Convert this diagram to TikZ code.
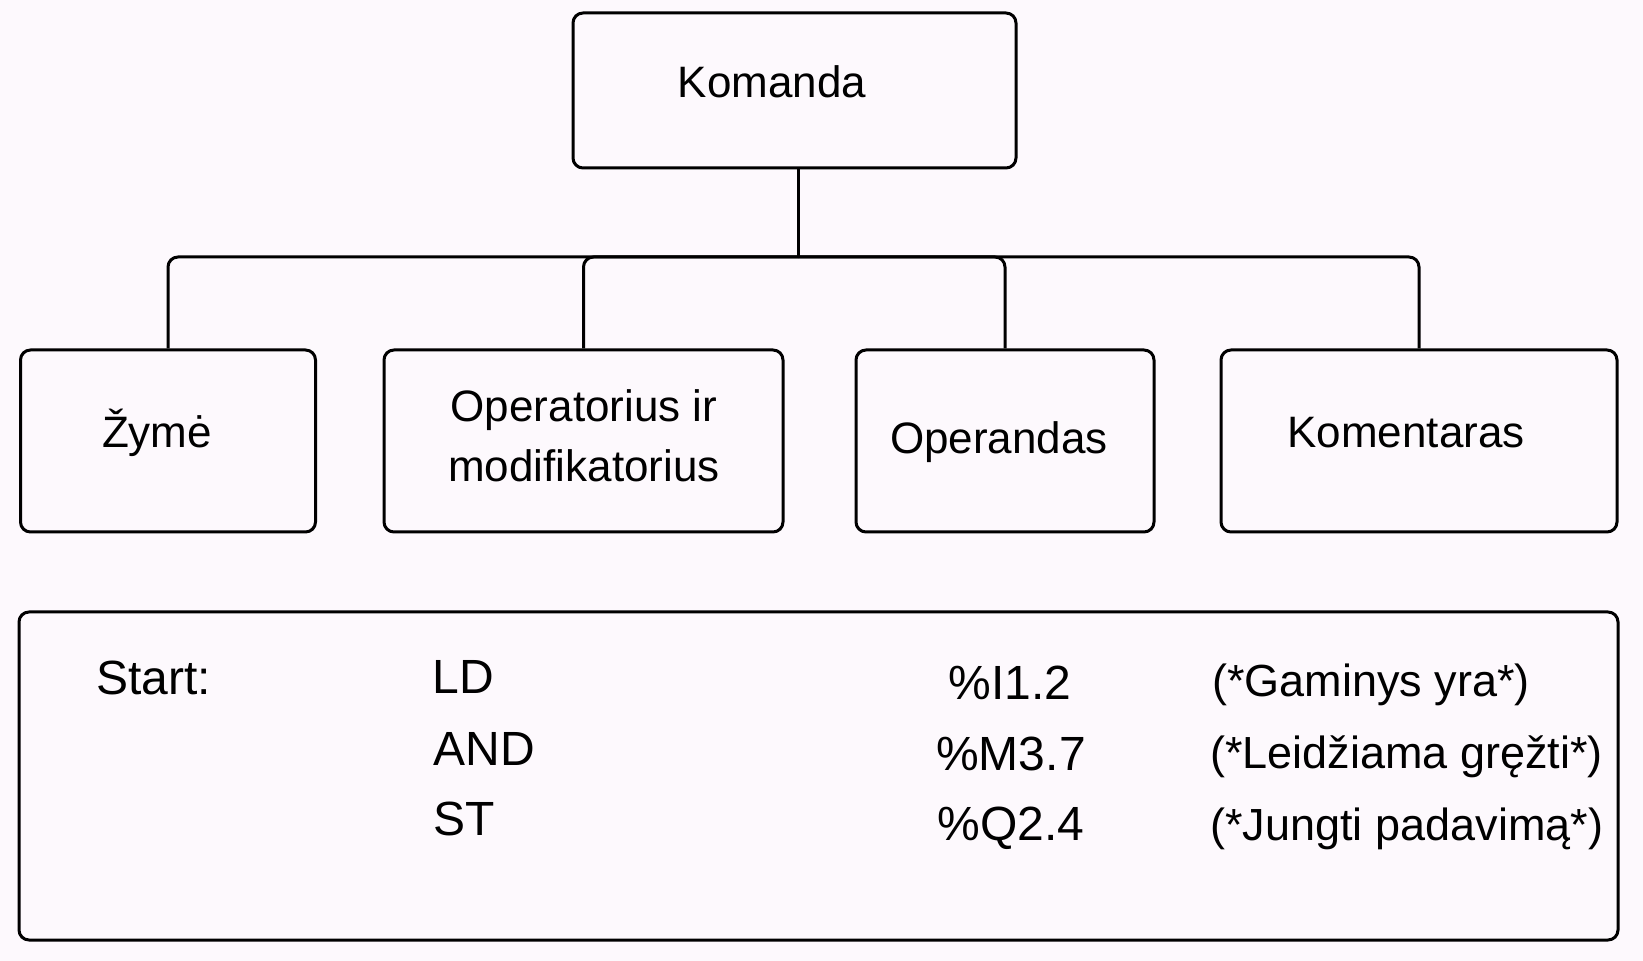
\documentclass[tikz,border=0pt]{standalone}
\usepackage{fontspec}
\setmainfont{Liberation Sans}
\definecolor{paper}{RGB}{253,249,253}
\begin{document}
\begin{tikzpicture}[x=0.5pt,y=-0.5pt,
  box/.style={draw=black,line width=1.5pt,rounded corners=5pt,fill=paper,
    inner sep=0pt,font=\fontsize{22}{30}\selectfont,align=center},
  link/.style={draw=black,line width=1.5pt,rounded corners=5pt},
  code/.style={inner sep=0pt,font=\fontsize{24}{28}\selectfont},
  note/.style={inner sep=0pt,font=\fontsize{22.5}{28}\selectfont,anchor=base west}]
  % page
  \fill[paper] (0,0) rectangle (1643,961);
  \useasboundingbox (0,0) rectangle (1643,961);

  % top-level box
  \node[box,minimum width=221.5pt,minimum height=77.5pt] (komanda) at (794.5,90.5) {};
  \node[inner sep=0pt,font=\fontsize{22}{30}\selectfont] (komandaText) at (772,82) {Komanda};

  % parts of an instruction
  \node[box,minimum width=147.5pt,minimum height=91pt] (zyme) at (168,441) {};
  \node[inner sep=0pt,font=\fontsize{22}{30}\selectfont] (zymeText) at (157,433) {Žymė};
  \node[box,minimum width=199.5pt,minimum height=91pt] (oper) at (583.5,441) {};
  \node[inner sep=0pt,font=\fontsize{22}{30}\selectfont,align=center] (operText) at (584,436)
    {Operatorius ir\\modifikatorius};
  \node[box,minimum width=149pt,minimum height=91pt] (operand) at (1005,441) {};
  \node[inner sep=0pt,font=\fontsize{22}{30}\selectfont] (operandText) at (999,442) {Operandas};
  \node[box,minimum width=198pt,minimum height=91pt] (koment) at (1419,441) {};
  \node[inner sep=0pt,font=\fontsize{22}{30}\selectfont] (komentText) at (1406,433) {Komentaras};

  % tree connectors
  \coordinate (bus) at (798,257);
  \draw[link] (bus |- komanda.south) -- (bus);
  \draw[link] (bus) -| (zyme.north);
  \draw[link] (bus) -| (oper.north);
  \draw[link] (bus) -| (operand.north);
  \draw[link] (bus) -| (koment.north);

  % example program
  \node[box,minimum width=799.5pt,minimum height=164pt] (example) at (818.5,776) {};
  \node[code,anchor=base west] (lbl) at (96,695) {Start:};
  \node[code,anchor=base west] (op1) at (432,694) {LD};
  \node[code,anchor=base west] (op2) at (433,765) {AND};
  \node[code,anchor=base west] (op3) at (433,835) {ST};
  \node[code,anchor=base] (arg1) at (1010,700) {\%I1.2};
  \node[code,anchor=base] (arg2) at (1011,770) {\%M3.7};
  \node[code,anchor=base] (arg3) at (1011,840) {\%Q2.4};
  \node[note] (c1) at (1212,697) {(*Gaminys yra*)};
  \node[note] (c2) at (1210,768) {(*Leidžiama gręžti*)};
  \node[note] (c3) at (1210,840) {(*Jungti padavimą*)};
\end{tikzpicture}
\end{document}
